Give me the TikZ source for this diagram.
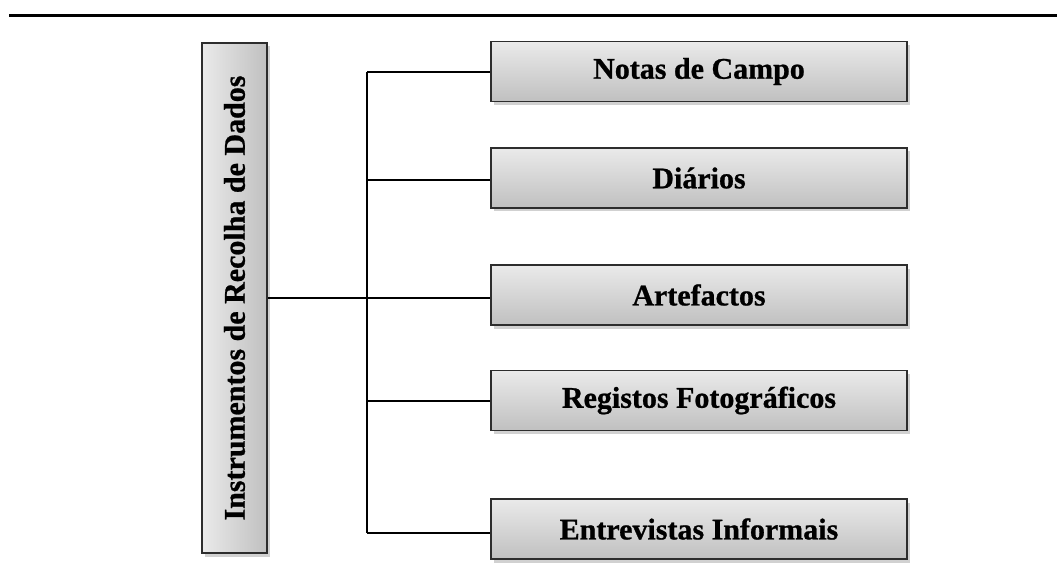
\documentclass[tikz,border=0pt]{standalone}
\usepackage{fontspec}
\setmainfont[BoldFeatures={FakeBold=0.8}]{Liberation Serif}
\usetikzlibrary{shadows}
\definecolor{boxlight}{RGB}{234,234,234}
\definecolor{boxdark}{RGB}{192,192,192}
\definecolor{boxline}{RGB}{45,45,45}
\tikzset{
  shadowed/.style={drop shadow={shadow xshift=3pt,shadow yshift=-3.5pt,opacity=0.3,fill=black!60}},
  itembox/.style={rectangle,draw=boxline,line width=1.5pt,top color=boxlight,bottom color=boxdark,
    minimum width=416pt,minimum height=60pt,inner sep=0pt,shadowed,
    font=\bfseries\fontsize{30}{36}\selectfont},
  mainbox/.style={rectangle,draw=boxline,line width=1.5pt,left color=boxlight,right color=boxdark,
    minimum width=65pt,minimum height=510pt,inner sep=0pt,shadowed,
    font=\bfseries\fontsize{30}{36}\selectfont},
  link/.style={draw=black,line width=1.3pt},
  rule/.style={draw=black,line width=3.5pt}
}
\begin{document}
\begin{tikzpicture}[x=1pt,y=-1pt]
\useasboundingbox (0,0) rectangle (1057,572);
% top rule
\coordinate (ruleL) at (9,15.3);
\coordinate (ruleR) at (1060,15.3);
\draw[rule] (ruleL) -- (ruleR);
% nodes
\node[mainbox] (src) at (234.5,298) {\rotatebox{90}{Instrumentos de Recolha de Dados}};
\node[itembox] (b1) at (699,71.5) {Notas de Campo};
\node[itembox] (b2) at (699,178) {Diários};
\node[itembox] (b3) at (699,295) {Artefactos};
\node[itembox] (b4) at (699,400.5) {Registos Fotográficos};
\node[itembox] (b5) at (699,529) {Entrevistas Informais};
% junctions on the trunk
\coordinate (j1) at (367,72);
\coordinate (j2) at (367,180);
\coordinate (j3) at (367,298);
\coordinate (j4) at (367,401);
\coordinate (j5) at (367,533);
\draw[link] (src.east |- j3) -- (j3);
\draw[link] (j1) -- (j5);
\draw[link] (j1) -- (j1 -| b1.west);
\draw[link] (j2) -- (j2 -| b2.west);
\draw[link] (j3) -- (j3 -| b3.west);
\draw[link] (j4) -- (j4 -| b4.west);
\draw[link] (j5) -- (j5 -| b5.west);
\end{tikzpicture}
\end{document}
